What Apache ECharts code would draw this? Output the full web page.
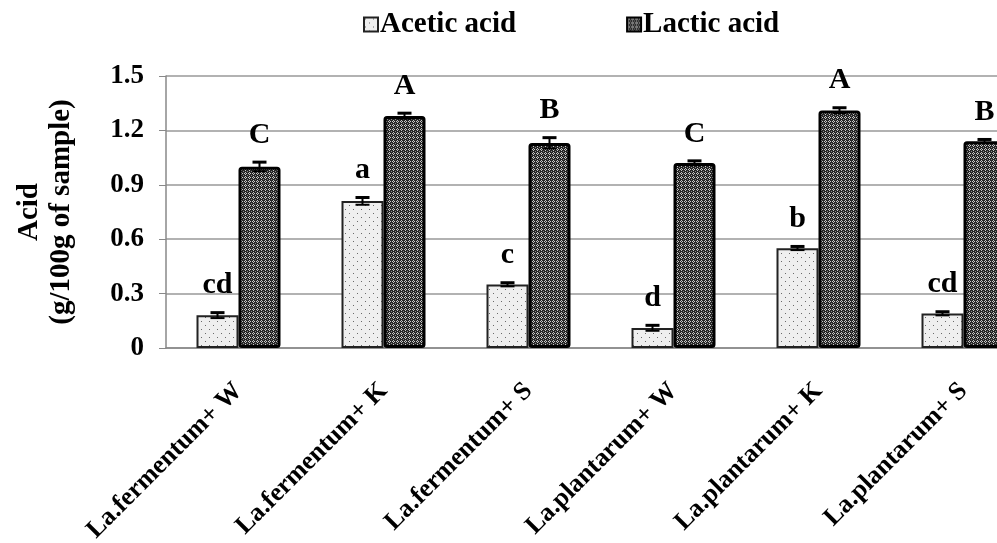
<!DOCTYPE html>
<html>
<head>
<meta charset="utf-8">
<script src="https://cdn.jsdelivr.net/npm/echarts@6/dist/echarts.min.js"></script>
<style>
html,body{margin:0;padding:0;background:#fff;}
#chart{width:997px;height:543px;}
</style>
</head>
<body>
<div id="chart"></div>
<script>
const categories = ['La.fermentum+ W','La.fermentum+ K','La.fermentum+ S','La.plantarum+ W','La.plantarum+ K','La.plantarum+ S'];
const aceticValues = [0.18, 0.81, 0.35, 0.11, 0.55, 0.19];
const aceticErrors = [0.015, 0.02, 0.01, 0.015, 0.01, 0.01];
const aceticLetters = ['cd','a','c','d','b','cd'];
const lacticValues = [1.00, 1.28, 1.13, 1.02, 1.31, 1.14];
const lacticErrors = [0.025, 0.015, 0.03, 0.012, 0.015, 0.01];
const lacticLetters = ['C','A','B','C','A','B'];
const yTicks = [0, 0.3, 0.6, 0.9, 1.2, 1.5];

const FONT = "'Liberation Serif','Times New Roman',serif";
const BAR_W = 42;

function makePattern(kind){
  const c = document.createElement('canvas');
  if(kind === 'acetic'){
    c.width = 8; c.height = 8;
    const g = c.getContext('2d');
    g.fillStyle = '#efefef'; g.fillRect(0,0,8,8);
    g.fillStyle = '#6a6a6a';
    g.fillRect(1,1,1,1); g.fillRect(5,5,1,1);
  } else {
    c.width = 4; c.height = 4;
    const g = c.getContext('2d');
    g.fillStyle = '#262626'; g.fillRect(0,0,4,4);
    g.fillStyle = '#c8c8c8';
    g.fillRect(1,0,1,1); g.fillRect(0,1,1,1); g.fillRect(2,1,1,1); g.fillRect(1,2,1,1);
    g.fillStyle = '#8a8a8a';
    g.fillRect(3,3,1,1);
  }
  return {image: c, repeat: 'repeat'};
}

function errSeries(values, errors, letters, side){
  return {
    type: 'custom',
    silent: true,
    z: 5,
    clip: false,
    data: values.map((v,i)=>[i, v, errors[i]]),
    renderItem: function(params, api){
      const i = api.value(0), v = api.value(1), e = api.value(2);
      const base = api.coord([i, v]);
      const x = base[0] + side * BAR_W / 2;
      const top = api.coord([i, v + e])[1];
      const bot = api.coord([i, v - e])[1];
      const cap = 7;
      const st = {stroke:'#000', lineWidth:2};
      const idx = params.dataIndex;
      return {
        type:'group',
        children:[
          {type:'line', shape:{x1:x,y1:top,x2:x,y2:bot}, style:st},
          {type:'line', shape:{x1:x-cap,y1:top,x2:x+cap,y2:top}, style:{stroke:'#000', lineWidth:3}},
          {type:'line', shape:{x1:x-cap,y1:bot,x2:x+cap,y2:bot}, style:st},
          {type:'text', x:x, y:top-12, style:{text: letters[idx], fill:'#000', font:"bold 30px " + FONT, textAlign:'center', textVerticalAlign:'bottom'}}
        ]
      };
    }
  };
}

const chart = echarts.init(document.getElementById('chart'), null, {renderer:'canvas'});
chart.setOption({
  animation: false,
  backgroundColor: '#fff',
  legend: {
    top: 5, left: 358,
    itemWidth: 14, itemHeight: 14, itemGap: 110,
    icon: 'rect',
    textStyle: {fontFamily: FONT, fontWeight:'bold', fontSize: 29, color:'#000', padding:[0,0,0,-3]},
    data: ['Acetic acid','Lactic acid']
  },
  grid: {left: 166, width: 870, top: 76, height: 272, containLabel: false, outerBoundsMode: 'none'},
  graphic: [{
    type:'text', x: 46, y: 212, rotation: Math.PI/2,
    style:{text:'Acid\n(g/100g of sample)', font:"bold 29px " + FONT, fill:'#000', textAlign:'center', textVerticalAlign:'middle', lineHeight: 32}
  }],
  xAxis: {
    type:'category', data: categories,
    axisLine:{show:true, lineStyle:{color:'#888', width:1.5}},
    axisTick:{show:false},
    axisLabel:{interval:0, rotate:45, margin:39, fontFamily:FONT, fontWeight:'bold', fontSize:26, color:'#000'}
  },
  yAxis: {
    type:'value', min:0, max:1.5, interval:0.3,
    axisLine:{show:true, lineStyle:{color:'#888', width:1.5}},
    axisTick:{show:true, length:7, lineStyle:{color:'#888'}},
    splitLine:{show:true, lineStyle:{color:'#999', width:1.5}},
    axisLabel:{margin:22, fontFamily:FONT, fontWeight:'bold', fontSize:27, color:'#000',
      formatter: v => { const t = yTicks.find(k => Math.abs(k-v)<1e-9); return t === 0 ? '0' : String(t); }}
  },
  series: [
    {name:'Acetic acid', type:'bar', data: aceticValues, barWidth: BAR_W, barGap:'0%',
     itemStyle:{color: makePattern('acetic'), borderColor:'#222', borderWidth:2}},
    {name:'Lactic acid', type:'bar', data: lacticValues, barWidth: BAR_W, barGap:'0%',
     itemStyle:{color: makePattern('lactic'), borderColor:'#000', borderWidth:3, borderRadius:2}},
    errSeries(aceticValues, aceticErrors, aceticLetters, -1),
    errSeries(lacticValues, lacticErrors, lacticLetters, 1)
  ]
});
</script>
</body>
</html>
